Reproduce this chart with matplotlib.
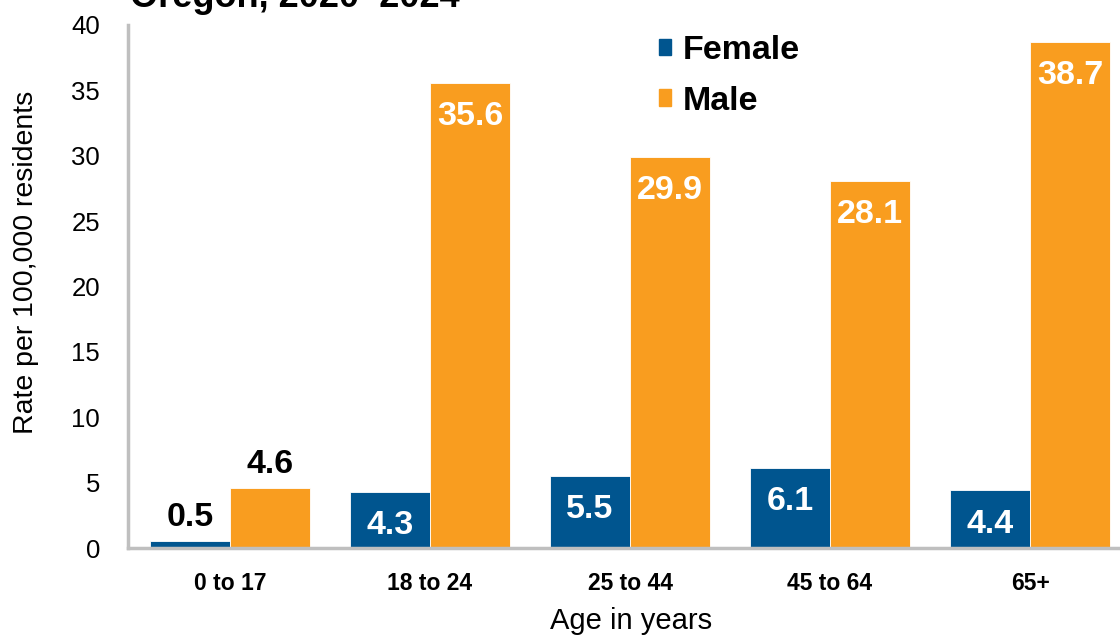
import matplotlib.pyplot as plt
from matplotlib.patches import Patch
import numpy as np

# data
age_groups = ["0 to 17", "18 to 24", "25 to 44", "45 to 64", "65+"]
female = [0.5, 4.3, 5.5, 6.1, 4.4]
male = [4.6, 35.6, 29.9, 28.1, 38.7]

blue = "#00558F"
orange = "#F99D1F"
grey = "#BFBFBF"

plt.rcParams["font.family"] = ["Liberation Sans", "DejaVu Sans"]

fig = plt.figure(figsize=(11.2, 6.35), dpi=100)
W, H = 1120, 635
ax = fig.add_axes([128 / W, (H - 548) / H, (W - 128) / W, (548 - 25) / H])

x = np.arange(len(age_groups))
w = 0.4
bars_f = ax.bar(x - w / 2, female, w, color=blue, edgecolor="white", linewidth=0.6)
bars_m = ax.bar(x + w / 2, male, w, color=orange, edgecolor="white", linewidth=0.6)

# value labels: first group sits above the bars, the rest inside near the top
for bars in (bars_f, bars_m):
    for i, b in enumerate(bars):
        v = b.get_height()
        cx = b.get_x() + b.get_width() / 2
        if i == 0:
            ax.annotate(f"{v:.1f}", (cx, v), xytext=(0, 6), textcoords="offset points",
                        ha="center", va="bottom", fontsize=24.5, fontweight="bold",
                        color="black")
        else:
            ax.annotate(f"{v:.1f}", (cx, v), xytext=(0, -13), textcoords="offset points",
                        ha="center", va="top", fontsize=24.5, fontweight="bold",
                        color="white")

ax.set_xlim(-0.51, 4.45)
ax.set_ylim(0, 40)
ax.set_yticks(range(0, 41, 5))
ax.set_xticks(x)
ax.set_xticklabels(age_groups, fontsize=16.5, fontweight="bold")
ax.tick_params(axis="y", length=0, pad=20, labelsize=18.5)
ax.tick_params(axis="x", length=0, pad=17)

for s in ("top", "right"):
    ax.spines[s].set_visible(False)
for s in ("left", "bottom"):
    ax.spines[s].set_color(grey)
    ax.spines[s].set_linewidth(2.5)

ax.set_ylabel("Rate per 100,000 residents", fontsize=20.5)
ax.yaxis.set_label_coords(-0.09, 0.547)
ax.set_xlabel("Age in years", fontsize=21)
ax.xaxis.set_label_coords(0.507, -0.112)

handles = [Patch(color=blue, label="Female"), Patch(color=orange, label="Male")]
fig.legend(handles=handles, loc="upper left", bbox_to_anchor=(642 / W, 1 - 18 / H),
           frameon=False, prop={"weight": "bold", "size": 24.5},
           handlelength=0.36, handleheight=0.36, handletextpad=0.35,
           labelspacing=0.58, borderpad=0)

# title line, partly cut off at the top of the image
fig.text(130 / W, 1 - 7 / H, "Oregon, 2020\u20132024", fontsize=26,
         fontweight="bold", ha="left", va="baseline")

fig.savefig("out.png", dpi=100)
plt.close(fig)
